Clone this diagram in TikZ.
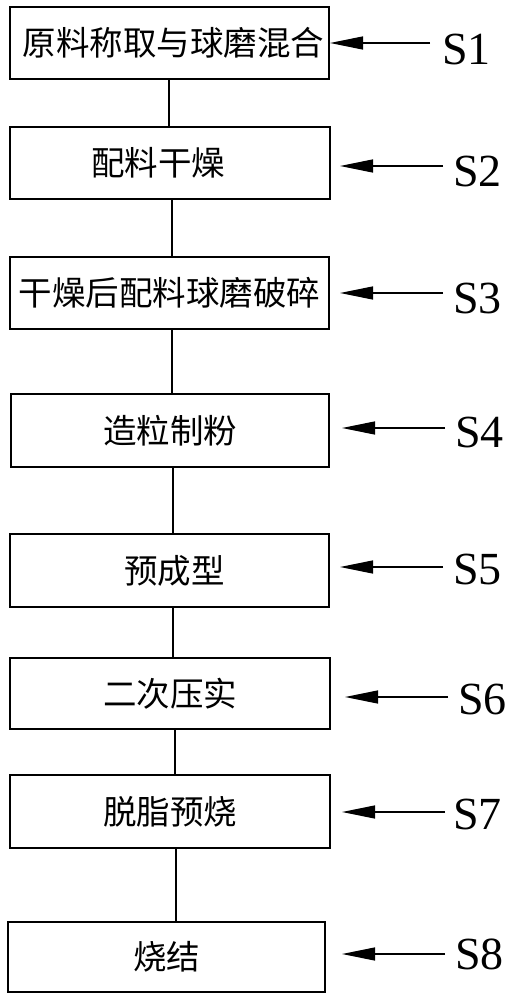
\documentclass[tikz,border=0pt]{standalone}
\usepackage{fontspec}
\setmainfont{Liberation Serif}
\newfontfamily\cjk{Noto Sans CJK SC}
\usetikzlibrary{arrows.meta}
\begin{document}
\begin{tikzpicture}[x=1pt,y=1pt,
  stepbox/.style={draw, line width=1.4pt, rectangle, minimum width=319pt, minimum height=72pt, inner sep=0pt, font=\cjk\fontsize{33.5}{35}\selectfont},
  steplabel/.style={anchor=west, inner sep=0pt, font=\fontsize{46}{48}\selectfont},
  link/.style={line width=1.2pt},
  pointer/.style={line width=1.3pt, -{Triangle[length=33pt,width=13pt]}}
]
\useasboundingbox (0,0) rectangle (510,-1000);
\fill[white] (0,0) rectangle (510,-1000);

\node[stepbox] (b1) at (169.5,-43) {\hspace*{8pt}原料称取与球磨混合};
\node[stepbox, minimum width=320pt] (b2) at (170,-163) {配料干燥\hspace*{24pt}};
\node[stepbox] (b3) at (169.5,-293) {干燥后配料球磨破碎};
\node[stepbox, minimum width=318pt, minimum height=73pt] (b4) at (170,-430.5) {造粒制粉};
\node[stepbox, minimum height=73pt] (b5) at (169.5,-570.5) {\hspace*{10pt}预成型};
\node[stepbox, minimum width=320pt, minimum height=71pt] (b6) at (170,-693.5) {二次压实};
\node[stepbox, minimum width=320pt, minimum height=73pt] (b7) at (170,-811.5) {脱脂预烧};
\node[stepbox, minimum width=317pt, minimum height=70pt] (b8) at (166.5,-957) {烧结};

\node[steplabel] (l1) at (442,-49) {S1};
\node[steplabel] (l2) at (453,-171) {S2};
\node[steplabel] (l3) at (453,-298) {S3};
\node[steplabel] (l4) at (455,-432) {S4};
\node[steplabel] (l5) at (453,-569) {S5};
\node[steplabel] (l6) at (458,-699) {S6};
\node[steplabel] (l7) at (453,-814) {S7};
\node[steplabel] (l8) at (455,-954) {S8};

\coordinate (a1) at (330,-43);
\coordinate (a2) at (340,-166);
\coordinate (a3) at (340,-293);
\coordinate (a4) at (342,-428);
\coordinate (a5) at (340,-567);
\coordinate (a6) at (345,-697);
\coordinate (a7) at (342,-812);
\coordinate (a8) at (342,-954);

\coordinate (t1) at (430,-43);
\coordinate (t2) at (443,-166);
\coordinate (t3) at (443,-293);
\coordinate (t4) at (445,-428);
\coordinate (t5) at (443,-567);
\coordinate (t6) at (448,-697);
\coordinate (t7) at (445,-812);
\coordinate (t8) at (445,-954);

\foreach \i in {1,...,8}{
  \draw[pointer] (t\i) -- (a\i);
}

\draw[link] (169,0 |- b1.south) -- (169,0 |- b2.north);
\draw[link] (172,0 |- b2.south) -- (172,0 |- b3.north);
\draw[link] (172,0 |- b3.south) -- (172,0 |- b4.north);
\draw[link] (173,0 |- b4.south) -- (173,0 |- b5.north);
\draw[link] (173,0 |- b5.south) -- (173,0 |- b6.north);
\draw[link] (175,0 |- b6.south) -- (175,0 |- b7.north);
\draw[link] (176,0 |- b7.south) -- (176,0 |- b8.north);
\end{tikzpicture}
\end{document}
